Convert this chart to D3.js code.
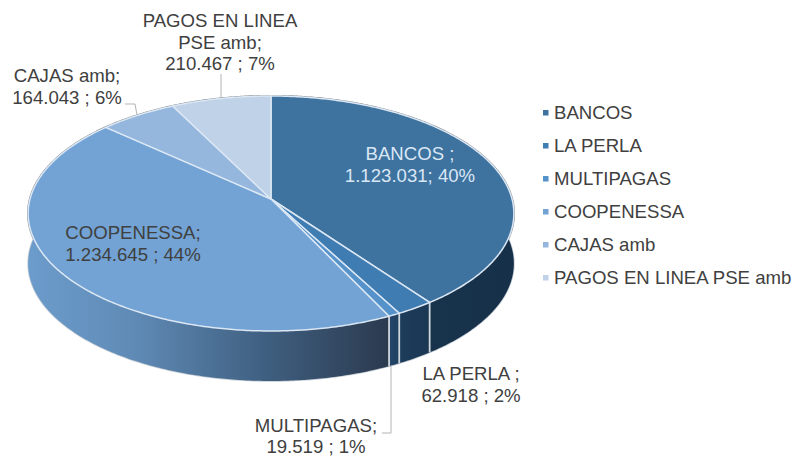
<!DOCTYPE html>
<html><head><meta charset="utf-8">
<style>html,body{margin:0;padding:0;background:#fff}svg{display:block}text{font-family:"Liberation Sans",Arial,sans-serif;font-size:18.6px;fill:#404040}</style>
<script src="https://cdn.jsdelivr.net/npm/d3@7/dist/d3.min.js"></script>
</head><body><svg id="c" width="795" height="457"></svg>
<script>
const categories = ["BANCOS","LA PERLA","MULTIPAGAS","COOPENESSA","CAJAS amb","PAGOS EN LINEA PSE amb"];
const values = [1123031,62918,19519,1234645,164043,210467];
const labelTexts = [
  ["BANCOS ;","1.123.031; 40%"],
  ["LA PERLA ;","62.918 ; 2%"],
  ["MULTIPAGAS;","19.519 ; 1%"],
  ["COOPENESSA;","1.234.645 ; 44%"],
  ["CAJAS amb;","164.043 ; 6%"],
  ["PAGOS EN LINEA","PSE amb;","210.467 ; 7%"]
];
const topColors = ["#3e729f","#3f7cb2","#5592ca","#72a3d4","#95b7de","#bfd2e8"];
const wallStops = [
  [["#1c3850",0],["#16304a",1]],
  [["#1d3c5c",0],["#1b3853",1]],
  [["#25476c",0],["#21405f",1]],
  [["#6c9ccc",0],["#5f8ab5",.3],["#3f5f80",.66],["#2b3a4f",1]],
  [["#6c9ccc",0],["#6c9ccc",1]],
  [["#6c9ccc",0],["#6c9ccc",1]]
];
const labelPos = [[410,160],[471,380],[316,432],[133,239],[67,82],[220,27]];
const labelGaps = [21.7,21.7,20.6,21.7,21.7,21.7];
const leaders = [
  [[221,74],[221,97]],
  [[125,104],[135,104],[137,115]],
  [[382,433],[391,433],[391,366]]
];

const svg = d3.select("#c");
const cx=271, apexY=199, A=241, B=115.7, k=0.1234, depth=50;
const proj = (t,dy=0)=>{const u=Math.sin(t),v=-Math.cos(t),s=1/(1-k*v);return [cx+A*u*s, apexY+B*v*s+dy];};
const arcPts=(a0,a1,dy=0)=>{const n=Math.max(2,Math.ceil((a1-a0)/0.01));return d3.range(n+1).map(i=>proj(a0+(a1-a0)*i/n,dy));};
const line=d3.line();
const arcs=d3.pie().sort(null).value(d=>d)(values);
const color=d3.scaleOrdinal().domain(categories).range(topColors);

const defs=svg.append("defs");
arcs.forEach((d,i)=>{
  const pts=arcPts(d.startAngle,d.endAngle).map(p=>p[0]);
  const g=defs.append("linearGradient").attr("id","w"+i).attr("gradientUnits","userSpaceOnUse")
    .attr("x1",i==3?28:d3.max(pts)).attr("x2",i==3?388:d3.min(pts)).attr("y1",0).attr("y2",0);
  wallStops[i].forEach(s=>g.append("stop").attr("offset",s[1]).attr("stop-color",s[0]));
  if(i<3) g.attr("x1",d3.min(pts)).attr("x2",d3.max(pts));
});

// outer fringe of the whole disc
svg.append("path").attr("d",line(arcPts(0,2*Math.PI))+"Z").attr("fill","none").attr("stroke","#7d8389").attr("stroke-width",2.2);
svg.append("path").attr("d",line(arcPts(0,2*Math.PI,depth))+"Z").attr("fill","none").attr("stroke","#c4ccd4").attr("stroke-width",1.6);

// walls
svg.append("g").selectAll("path").data(arcs).join("path")
  .attr("d",d=>line(arcPts(d.startAngle,d.endAngle).concat(arcPts(d.startAngle,d.endAngle,depth).reverse()))+"Z")
  .attr("fill",(d,i)=>`url(#w${i})`);
// wall separators at the front
svg.append("g").selectAll("line").data(arcs.slice(0,3)).join("line")
  .attr("x1",d=>proj(d.endAngle)[0]).attr("y1",d=>proj(d.endAngle)[1])
  .attr("x2",d=>proj(d.endAngle,depth)[0]).attr("y2",d=>proj(d.endAngle,depth)[1])
  .attr("stroke","#cfd6dd").attr("stroke-width",1.8);

// top face
svg.append("g").selectAll("path").data(arcs).join("path")
  .attr("d",d=>line([[cx,apexY]].concat(arcPts(d.startAngle,d.endAngle)))+"Z")
  .attr("fill",d=>color(categories[d.index]))
  .attr("stroke","#dbe7f4").attr("stroke-width",1.5).attr("stroke-linejoin","round");

// leaders
svg.append("g").selectAll("path").data(leaders).join("path")
  .attr("d",d=>line(d)).attr("fill","none").attr("stroke","#b4b4b4").attr("stroke-width",1);

// data labels
const lab=svg.append("g").selectAll("text").data(labelTexts.map((l,i)=>({l,i}))).join("text")
  .attr("text-anchor","middle")
  .attr("x",d=>labelPos[d.i][0]).attr("y",d=>labelPos[d.i][1])
  .style("fill",d=>d.i==0?"#d9e7f5":"#404040");
lab.each(function(d){
  const t=d3.select(this);
  d.l.forEach((s,j)=>t.append("tspan").attr("x",labelPos[d.i][0]).attr("dy",j?labelGaps[d.i]:0).text(s));
});

// legend
const leg=svg.append("g").selectAll("g").data(categories).join("g")
  .attr("transform",(d,i)=>`translate(543,${119+33*i})`);
leg.append("rect").attr("x",0).attr("y",-9).attr("width",5.5).attr("height",5.5).attr("fill",d=>color(d));
leg.append("text").attr("x",11).attr("y",0).text(d=>d);
</script></body></html>
